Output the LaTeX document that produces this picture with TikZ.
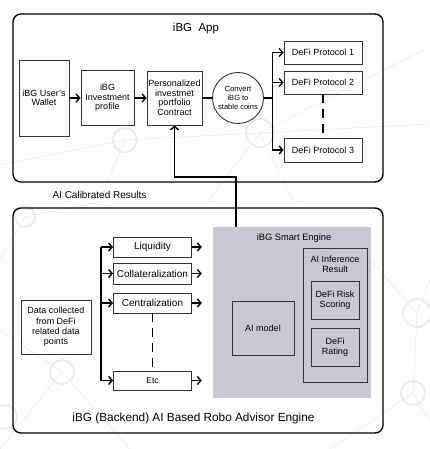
\documentclass[tikz,border=0pt]{standalone}
\usepackage{fontspec}
\setmainfont{Liberation Sans}
\usetikzlibrary{positioning, arrows.meta}
\definecolor{engineGrey}{HTML}{C9C7D3}
\definecolor{webGrey}{HTML}{EBECF1}

\begin{document}
\begin{tikzpicture}[x=1pt, y=-1pt, >={Straight Barb[length=3.5pt,width=8pt]},
   box/.style={draw=black!80, line width=0.9pt, align=center, inner sep=1pt, font=\fontsize{9}{9.5}\selectfont},
   panel/.style={draw, line width=1.4pt, rounded corners=8pt},
   title/.style={font=\fontsize{11.5}{12}\selectfont},
   link/.style={line width=1.4pt},
   gap/.style={line width=1.8pt, dash pattern=on 9pt off 6pt},
   web/.style={draw=webGrey, line width=0.6pt},
   hubring/.style={draw=webGrey, line width=2pt}]
   \useasboundingbox (0,0) rectangle (429,449);

   % faint background network
   \foreach \a/\b in {{260,133}/{429,47}, {260,133}/{429,124}, {260,133}/{125,140}, {260,133}/{205,205},
                      {260,133}/{300,215}, {125,140}/{0,165}, {125,140}/{100,200}, {25,217}/{0,260},
                      {25,217}/{110,200}, {62,372}/{0,330}, {62,372}/{0,449}, {62,372}/{130,449},
                      {417,313}/{429,280}, {417,313}/{340,225}, {417,313}/{413,393}, {413,393}/{330,449},
                      {413,393}/{429,420}}
      \draw[web] (\a) -- (\b);
   \foreach \c/\r in {{260,133}/14, {125,140}/12, {25,217}/10, {62,372}/12, {417,313}/14, {413,393}/12, {5,417}/12}
      \draw[hubring] (\c) circle[radius=\r];

   % Front end panel
   \node[panel, minimum width=370pt, minimum height=168pt] (app) at (198,98) {};
   \node[title] (appTitle) at (196,29) {iBG\ \ App};

   \node[box, minimum width=50pt, minimum height=76pt] (wallet) at (44,98) {iBG User's\\Wallet};
   \node[box, minimum width=53pt, minimum height=55pt, on grid] (profile) [right=63.5pt of wallet] {iBG\\Investment\\profile};
   \node[box, minimum width=55pt, minimum height=54pt, on grid] (contract) [right=67pt of profile] {Personalized\\investmet\\portfolio\\Contract};
   \node[box, circle, minimum size=51pt, inner sep=0pt, font=\fontsize{7.5}{8.7}\selectfont, on grid] (convert) [right=63.5pt of contract] {Convert\\iBG to\\stable coins};

   % Protocols
   \node[box, minimum width=78pt, minimum height=23pt] (p1) at (323,52.5) {DeFi Protocol 1};
   \node[box, minimum width=78pt, minimum height=23pt, on grid] (p2) [below=30pt of p1] {DeFi Protocol 2};
   \node[box, minimum width=78pt, minimum height=24pt, on grid] (p3) [below=67.5pt of p2] {DeFi Protocol 3};

   \node[font=\fontsize{10}{11}\selectfont] (calib) at (99.5,195) {AI Calibrated Results};

   % Back end panel
   \node[panel, minimum width=370pt, minimum height=225pt] (robo) at (198,320.5) {};
   \node[font=\fontsize{11.8}{13}\selectfont] (roboTitle) at (193.5,418) {iBG (Backend) AI Based Robo Advisor Engine};

   \node[box, minimum width=70pt, minimum height=54pt, font=\fontsize{9}{10.3}\selectfont] (data) at (56,327) {Data collected\\from DeFi\\related data\\points};

   \node[box, minimum width=78pt, minimum height=20pt, font=\fontsize{10}{11}\selectfont] (liq) at (152.5,247) {Liquidity};
   \node[box, minimum width=78pt, minimum height=21pt, font=\fontsize{10}{11}\selectfont, on grid] (coll) [below=26.5pt of liq] {Collateralization};
   \node[box, minimum width=78pt, minimum height=20pt, font=\fontsize{10}{11}\selectfont, on grid] (cent) [below=29.5pt of coll] {Centralization};
   \node[box, minimum width=78pt, minimum height=19pt, font=\fontsize{8.5}{9}\selectfont, on grid] (etc) [below=77.5pt of cent] {Etc};

   % Smart engine
   \node[fill=engineGrey, minimum width=158pt, minimum height=171pt] (engine) at (292,312.5) {};
   \node[font=\fontsize{9.3}{10}\selectfont] (engineTitle) at (294,238) {iBG Smart Engine};
   \node[box, minimum width=62pt, minimum height=54pt] (model) at (263,328) {AI model};
   \node[box, minimum width=64pt, minimum height=134pt] (infer) at (335,315) {};
   \node[align=center, font=\fontsize{9}{10}\selectfont] (inferTitle) at (335,264.5) {AI Inference\\Result};
   \node[box, minimum width=48pt, minimum height=38pt] (risk) at (335,300) {DeFi Risk\\Scoring};
   \node[box, minimum width=48pt, minimum height=38pt] (rating) at (335,347) {DeFi\\Rating};

   % Front end links
   \draw[link, ->] (wallet.east |- profile.west) -- (profile.west);
   \draw[link, ->] (profile.east |- contract.west) -- (contract.west);
   \draw[link] (contract.east) -- (convert.west);
   \draw[link] (convert.east) -- ++(8.5,0) coordinate (fork);
   \draw[link, ->] (fork) |- (p1.west);
   \draw[link, ->] (fork) |- (p2.west);
   \draw[link, ->] (fork) |- (p3.west);
   \draw[gap] (p2.south) -- (p3.north);

   % Feedback
   \draw[link, ->] ([xshift=23pt]engine.north west) -- ++(0,-50) -| (contract.south);

   % Back end links
   \coordinate (bus) at (101,247);
   \draw[link, ->] (bus) -- (liq.west);
   \draw[link, ->] (bus) |- (coll.west);
   \draw[link, ->] (bus) |- (cent.west);
   \draw[link, ->] (bus) |- (etc.west);
   \draw[gap] (cent.south) -- (etc.north);
   \foreach \k in {liq, coll, cent, etc}
      \draw[link, ->, shorten >=11pt] (\k.east) -- (\k.east -| engine.west);
\end{tikzpicture}
\end{document}
